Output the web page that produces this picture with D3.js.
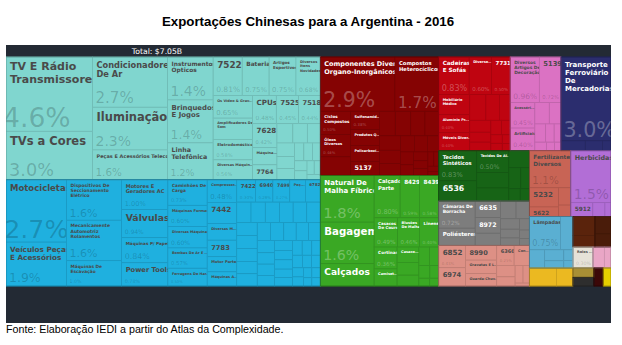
<!DOCTYPE html>
<html><head><meta charset="utf-8">
<script src="https://cdnjs.cloudflare.com/ajax/libs/d3/7.8.5/d3.min.js"></script>
<style>body{margin:0;background:#fff;}svg{display:block;}</style>
</head><body>
<svg id="c" width="622" height="345"></svg>
<script>
// ---------------- DATA (share of exports, %) ----------------
const title = "Exportações Chinesas para a Argentina - 2016";
const totalLabel = "Total: $7.05B";
const source = "Fonte: Elaboração IEDI a partir do Atlas da Complexidade.";

const eletronicosProdutos = ["TV E Rádio Transmissores","TVs a Cores","Condicionadores De Ar","Iluminação","Peças E Acessórios Telecom","Instrumentos Ópticos","Brinquedos E Jogos","Linha Telefônica","7522","Bateria","Artigos Esportivos","Diversos Itens Novidades","Os Vídeo & Gravadores De Som","Amplificadores De Som","Eletrodomésticos","Diversas Máquinas Elétricas","CPUs","7525","7518","7628","Máquinas De Lavar","7764","","","","","","","","","","","","","",""];
const eletronicosValores = [4.6,3.0,2.7,2.3,1.6,1.4,1.4,1.2,0.80,0.74,0.74,0.67,0.64,0.60,0.58,0.56,0.48,0.45,0.44,0.42,0.30,0.26,0.22,0.20,0.18,0.17,0.15,0.14,0.12,0.11,0.10,0.09,0.08,0.07,0.06,0.05];

const maquinasProdutos = ["Motocicletas","Veículos Peças E Acessórios","Dispositivos De Seccionamento Elétrico","Mecanicamente Automotriz Rolamentos","Máquinas De Escavação","Motores E Geradores AC","Válvulas","Máquinas P/ Papel","Power Tools","Caminhões De Carga","Máquinas Formas","Diversas Máquinas","Bombas De Ar E Vácuo","Ferragens De Hardware","Compressores","7442","Diversas Metalúrgicas","7783","Motor Partes","Máquinas Alavanca","7422","6940","7499","Peças De Máquinas","6782","","","","","","","","","","","","","","","","","","","","","","","","","","","","","","","","","","","","",""];
const maquinasValores = [2.7,1.9,1.6,1.6,1.0,0.99,0.93,0.83,0.77,0.72,0.60,0.60,0.57,0.50,0.48,0.45,0.35,0.35,0.32,0.30,0.30,0.28,0.27,0.25,0.24,0.21,0.21,0.21,0.20,0.20,0.20,0.19,0.19,0.19,0.18,0.18,0.17,0.17,0.16,0.16,0.15,0.15,0.14,0.14,0.13,0.13,0.12,0.12,0.11,0.11,0.10,0.10,0.09,0.09,0.08,0.08,0.07,0.07,0.06,0.06,0.05,0.05,0.04,0.04,0.03,0.03,0.02,0.02];

const quimicosProdutos = ["Componentes Divers Organo-Inorgânicos","Compostos Heterocíclicos","Ciclos Compostos","Óleos Diversos","","Sulfonamidas Sulfonatos","Produtos Químicos","Policarboxílicos Ácidos","5137","","","","","","","","","","","","","","","","","","",""];
const quimicosValores = [2.9,1.7,0.50,0.48,0.40,0.38,0.33,0.33,0.29,0.28,0.27,0.25,0.24,0.22,0.20,0.18,0.16,0.15,0.13,0.12,0.10,0.09,0.08,0.07,0.06,0.05,0.04,0.03];

const texteisProdutos = ["Natural De Malha Fíbrico","Bagagem","Calçados","Calçado Parte","8429","8439","Casacos De Couro","Blusões De Malha","Linens","Cortinas","Camisetas","Casacos De Malha","","","","","","","",""];
const texteisValores = [1.8,1.6,0.86,0.79,0.59,0.58,0.49,0.46,0.40,0.36,0.28,0.24,0.20,0.17,0.14,0.12,0.10,0.08,0.06,0.05];

const moveisProdutos = ["Cadeiras E Sofás","Diversos Acessórios Móveis","7731","Mobiliário Médico","Alumínio Processado","Móveis Diversos","","","","","","","","","","","",""];
const moveisValores = [0.82,0.60,0.50,0.45,0.40,0.40,0.30,0.25,0.20,0.18,0.15,0.13,0.11,0.09,0.07,0.06,0.05,0.04];

const diversosProdutos = ["Diversos Artigos De Decoração","5139","Acessórios De Vestuário","Artificiais","","","","","","","",""];
const diversosValores = [0.95,0.71,0.45,0.40,0.22,0.18,0.14,0.11,0.09,0.07,0.05,0.04];

const transporteProdutos = ["Transporte Ferroviário De Mercadorias","","",""];
const transporteValores = [3.0,0.17,0.12,0.06];

const tecidosProdutos = ["Tecidos Sintéticos","6536","Tecidos De Algodão Estampados","","","","","","",""];
const tecidosValores = [0.82,0.55,0.50,0.36,0.30,0.25,0.18,0.13,0.10,0.08];

const borrachaProdutos = ["Câmaras De Borracha","Poliésteres","6635","8972","","","","","","","","",""];
const borrachaValores = [0.71,0.45,0.30,0.28,0.22,0.20,0.17,0.14,0.12,0.10,0.08,0.06,0.05];

const outrosProdutos = ["6852","6974","8990","Gravatas E Laços","Guarda-Chuvas","6360","Construções","","","","",""];
const outrosValores = [0.43,0.35,0.33,0.30,0.28,0.25,0.22,0.15,0.12,0.10,0.08,0.03];

const fertilizantesProdutos = ["Fertilizantes Diversos","5232","5622","",""];
const fertilizantesValores = [1.1,0.40,0.20,0.15,0.10];

const agroProdutos = ["Herbicidas","5912","",""];
const agroValores = [1.5,0.22,0.12,0.06];

const lampadasProdutos = ["Lâmpadas","","","","","",""];
const lampadasValores = [0.74,0.30,0.20,0.15,0.10,0.07,0.05];

const amareloProdutos = ["",""];        const amareloValores = [0.35,0.21];
const madeiraProdutos = ["",""];        const madeiraValores = [0.30,0.18];
const madeira2Produtos = ["",""];       const madeira2Valores = [0.20,0.15];
const papelProdutos = ["Rolos De Papel"]; const papelValores = [0.30];
const rosaProdutos = ["",""];           const rosaValores = [0.17,0.10];
const oliveProdutos = [""];             const oliveValores = [0.14];
const cinzaProdutos = [""];             const cinzaValores = [0.13];
const marromProdutos = [""];            const marromValores = [0.12];
const ouroProdutos = [""];              const ouroValores = [0.10];

const grupoNomes = ["Eletrônicos","Máquinas","Químicos","Têxteis","Móveis","Diversos","Transporte","Tecidos","Borracha e Plásticos","Outros","Fertilizantes","Agroquímicos","Lâmpadas","Pedras","Madeira","Madeira 2","Papel","Calçados Diversos","Metais","Minerais","Couro","Ouro"];
const grupoProdutos = [eletronicosProdutos,maquinasProdutos,quimicosProdutos,texteisProdutos,moveisProdutos,diversosProdutos,transporteProdutos,tecidosProdutos,borrachaProdutos,outrosProdutos,fertilizantesProdutos,agroProdutos,lampadasProdutos,amareloProdutos,madeiraProdutos,madeira2Produtos,papelProdutos,rosaProdutos,oliveProdutos,cinzaProdutos,marromProdutos,ouroProdutos];
const grupoValores = [eletronicosValores,maquinasValores,quimicosValores,texteisValores,moveisValores,diversosValores,transporteValores,tecidosValores,borrachaValores,outrosValores,fertilizantesValores,agroValores,lampadasValores,amareloValores,madeiraValores,madeira2Valores,papelValores,rosaValores,oliveValores,cinzaValores,marromValores,ouroValores];

// ---------------- STYLE ----------------
const grupoCores = ["#80d6cf","#1fb0df","#850303","#3aa824","#bf0410","#db72c3","#2b2d6e","#176416","#7d7d7d","#dd9085","#c86455","#b26ed6","#5aafd2","#ebb921","#5a230c","#4a1c0a","#e6e2d8","#e9a6c6","#a88f35","#2e2e2e","#3c0808","#e6cf00"];
const grupoTextoEscuro = [true,true,false,false,false,true,false,false,false,true,true,true,true,true,false,false,true,true,true,false,false,true];

const panel = {x:6, y:45, w:605, h:278};
const tm = {x:6, y:57, w:605, h:229};

const svg = d3.select("#c");
svg.append("text").attr("x",308).attr("y",26).attr("text-anchor","middle")
  .attr("font-family","Liberation Sans, Arial, sans-serif").attr("font-weight","bold")
  .attr("font-size",13.3).attr("fill","#000").text(title);

svg.append("rect").attr("x",panel.x).attr("y",panel.y).attr("width",panel.w).attr("height",panel.h).attr("fill","#232a34");
svg.append("text").attr("x",157).attr("y",53.5).attr("text-anchor","middle")
  .attr("font-family","DejaVu Sans, sans-serif").attr("font-size",7.7).attr("fill","#fff").text(totalLabel);

svg.append("text").attr("x",6).attr("y",333).attr("font-family","Liberation Sans, Arial, sans-serif")
  .attr("font-size",10.7).attr("fill","#000").text(source);

svg.append("clipPath").attr("id","pclip").append("rect")
  .attr("x",panel.x).attr("y",panel.y).attr("width",panel.w).attr("height",panel.h);

const rootData = {name:"root", children: grupoNomes.map((g,i)=>({
  name:g, gi:i,
  children: grupoProdutos[i].map((p,j)=>({name:p, gi:i, value:grupoValores[i][j]}))
}))};

const root = d3.hierarchy(rootData).sum(d=>d.value||0).sort((a,b)=>b.value-a.value);
d3.treemap().tile(d3.treemapSquarify).size([tm.w,tm.h]).paddingInner(0).round(false)(root);
const total = root.value;

const ctx = document.createElement("canvas").getContext("2d");
function tw(t, fs, bold){ ctx.font = (bold?"bold ":"") + fs + "px 'DejaVu Sans'"; return ctx.measureText(t).width; }
function wrap(words, fs, maxW){
  const lines=[]; let cur="";
  for(const w of words){ const t = cur ? cur+" "+w : w;
    if(!cur || tw(t,fs,true)<=maxW) cur=t; else { lines.push(cur); cur=w; } }
  if(cur) lines.push(cur); return lines;
}
function fitLabel(name, w, h){
  if(!name || w < 12 || h < 8) return null;
  const words = name.split(/\s+/);
  const maxW = w*1.1 - 5;
  const top = Math.min(11.5, 0.19*Math.sqrt(w*h)+2.5);
  for(let fs=top; fs>=3.5; fs-=0.25){
    const lh = fs*1.15;
    const maxLines = Math.max(1, Math.floor(h*0.4/lh));
    const lines = wrap(words, fs, maxW);
    if(lines.length<=maxLines && lines.every(l=>tw(l,fs,true)<=maxW)) return {fs, lines, lh};
  }
  const fs=3.5; let t=name;
  while(t.length>1 && tw(t+"...",fs,true)>maxW) t=t.slice(0,-1);
  if(t.length<3) return null;
  return {fs, lines:[t+"..."], lh:fs*1.15};
}
const fmt = v => v>=1 ? v.toFixed(1)+"%" : v.toFixed(2)+"%";

const g = svg.append("g").attr("clip-path","url(#pclip)")
  .append("g").attr("transform",`translate(${tm.x},${tm.y})`);

root.leaves().forEach(d=>{
  const gi = d.data.gi, col = grupoCores[gi], dark = grupoTextoEscuro[gi];
  const w = d.x1-d.x0, h = d.y1-d.y0;
  const cell = g.append("g");
  cell.append("rect").attr("x",d.x0).attr("y",d.y0).attr("width",w).attr("height",h)
    .attr("fill",col).attr("stroke",d3.color(col).darker(0.35)).attr("stroke-width",0.7);
  const lab = fitLabel(d.data.name, w, h);
  if(!lab) return;
  const tc = dark ? "#4a4a4a" : "#ffffff";
  lab.lines.forEach((l,k)=>{
    cell.append("text").attr("x",d.x0+4).attr("y",d.y0+3+lab.fs*0.95+k*lab.lh)
      .attr("font-family","DejaVu Sans, sans-serif").attr("font-weight","bold")
      .attr("font-size",lab.fs).attr("fill",tc).text(l);
  });
  const pct = fmt(d.value/total*100);
  const used = 3 + lab.lines.length*lab.lh + 2;
  const rem = h - used - 3;
  const shiftOK = d.x0 < 1 || gi === 6;
  let pfs = Math.min(rem*0.65, 28, (w*(shiftOK?1.15:1.0)-5)/tw(pct,1,false));
  if(pfs >= 3.5){
    cell.append("text").attr("x",d.x0+3-(shiftOK?Math.max(0,pfs-20)*0.9:0)).attr("y",d.y1-3-pfs*0.05)
      .attr("font-family","DejaVu Sans, sans-serif").attr("font-size",pfs)
      .attr("fill", dark ? "#000" : "#fff").attr("fill-opacity", dark?0.2:0.3).text(pct);
  }
});

root.children.forEach(d=>{
  g.append("rect").attr("x",d.x0).attr("y",d.y0).attr("width",d.x1-d.x0).attr("height",d.y1-d.y0)
    .attr("fill","none").attr("stroke",d3.color(grupoCores[d.data.gi]).darker(0.9)).attr("stroke-width",0.8);
});
</script>
</body></html>
